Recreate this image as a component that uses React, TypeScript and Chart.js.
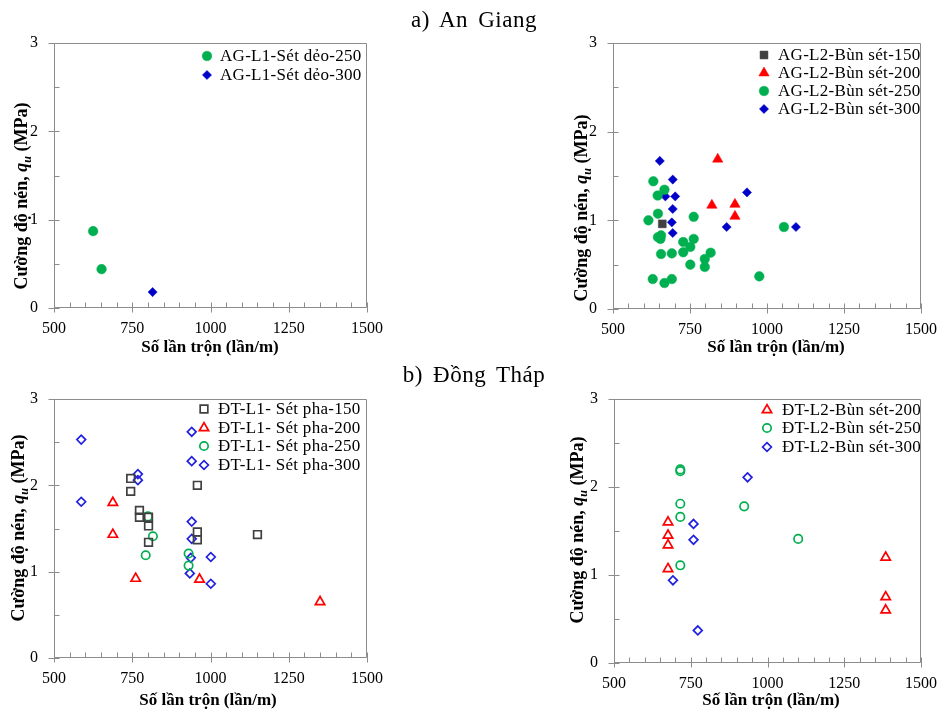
import React, { useEffect, useRef } from 'react';
import { Chart, registerables } from 'chart.js';
import { drawPoint } from 'chart.js/helpers';

Chart.register(...registerables);

type Pt = [number, number];

// ---- a) An Giang, lớp L1 (sét dẻo) ----
const agL1Set250: Pt[] = [[625, 0.87], [652, 0.44]];
const agL1Set300: Pt[] = [[815, 0.18]];

// ---- a) An Giang, lớp L2 (bùn sét) ----
const agL2Bun150: Pt[] = [[660, 0.96]];
const agL2Bun200: Pt[] = [[840, 1.69], [821, 1.17], [896, 1.18], [896, 1.045]];
const agL2Bun250: Pt[] = [
  [631, 1.44], [667, 1.345], [645, 1.28], [646, 1.075], [615, 1.0], [762, 1.04],
  [656, 0.83], [646, 0.81], [654, 0.79], [728, 0.756], [762, 0.79], [751, 0.7],
  [728, 0.64], [656, 0.62], [691, 0.627], [817, 0.635], [798, 0.564], [798, 0.474],
  [751, 0.5], [629, 0.338], [667, 0.293], [691, 0.338], [975, 0.368], [1055, 0.925],
];
const agL2Bun300: Pt[] = [
  [652, 1.67], [694, 1.46], [670, 1.27], [702, 1.27], [694, 1.128], [691, 0.977],
  [694, 0.857], [935, 1.315], [869, 0.925], [1094, 0.925],
];

// ---- b) Đồng Tháp, lớp L1 (sét pha) ----
const dtL1Pha150: Pt[] = [
  [745, 2.08], [745, 1.93], [773, 1.71], [773, 1.63], [802, 1.63], [802, 1.53],
  [802, 1.34], [958, 2.0], [958, 1.46], [958, 1.37], [1150, 1.43],
];
const dtL1Pha200: Pt[] = [[688, 1.8], [688, 1.43], [761, 0.92], [965, 0.91], [1350, 0.65]];
const dtL1Pha250: Pt[] = [[800, 1.64], [816, 1.41], [793, 1.19], [930, 1.21], [930, 1.07]];
const dtL1Pha300: Pt[] = [
  [587, 2.53], [587, 1.81], [768, 2.13], [768, 2.06], [940, 2.62], [940, 2.28],
  [940, 1.58], [940, 1.38], [937, 1.16], [934, 0.98], [1001, 1.17], [1001, 0.86],
];

// ---- b) Đồng Tháp, lớp L2 (bùn sét) ----
const dtL2Bun200: Pt[] = [
  [676, 1.6], [676, 1.45], [676, 1.34], [676, 1.07], [1385, 1.2], [1385, 0.75], [1385, 0.6],
];
const dtL2Bun250: Pt[] = [[716, 2.2], [716, 2.18], [716, 1.81], [716, 1.66], [716, 1.11], [924, 1.78], [1100, 1.41]];
const dtL2Bun300: Pt[] = [[692, 0.94], [759, 1.58], [759, 1.4], [773, 0.37], [935, 2.11]];

// axis ranges and labelled ticks
const X_MIN = 500;
const X_MAX = 1500;
const X_MINOR = 50;
const X_LABELS = [500, 750, 1000, 1250, 1500];
const Y_MIN = 0;
const Y_MAX = 3;
const Y_MINOR = 0.5;
const Y_LABELS = [0, 1, 2, 3];

const Y_TITLE = 'Cường độ nén, ';
const X_TITLE = 'Số lần trộn (lần/m)';

const W = 948;
const H = 713;
const SERIF = '"Liberation Serif", "Times New Roman", serif';
const AXIS_COLOR = '#8c8c8c';
const GREEN = '#00b050';
const BLUE = '#0000c8';
const RED = '#ff0000';
const DARK = '#404040';

type Series = {
  label: string;
  points: Pt[];
  style: string;
  radius: number;
  fill: string;
  stroke: string;
  bw: number;
};

type PanelCfg = {
  area: { left: number; top: number; right: number; bottom: number };
  series: Series[];
  legend: { mx: number; tx: number; rows: number[] };
  yTitle: { bx: number; cy: number };
  xTitle: { cx: number; by: number };
  soft: boolean;
};

const solid = (label: string, points: Pt[], style: string, radius: number, color: string): Series => ({
  label, points, style, radius, fill: color, stroke: color, bw: 0.5,
});
const hollow = (label: string, points: Pt[], style: string, radius: number, color: string): Series => ({
  label, points, style, radius, fill: 'rgba(0,0,0,0)', stroke: color, bw: 1.7,
});

const PANELS: PanelCfg[] = [
  {
    area: { left: 54, top: 43, right: 367, bottom: 308 },
    series: [
      solid('AG-L1-Sét dẻo-250', agL1Set250, 'circle', 4.8, GREEN),
      solid('AG-L1-Sét dẻo-300', agL1Set300, 'rectRot', 4.6, BLUE),
    ],
    legend: { mx: 207, tx: 220, rows: [56, 75] },
    yTitle: { bx: 27, cy: 196 },
    xTitle: { cx: 210, by: 352 },
    soft: false,
  },
  {
    area: { left: 613, top: 43, right: 927, bottom: 309 },
    series: [
      solid('AG-L2-Bùn sét-150', agL2Bun150, 'rect', 5.6, DARK),
      solid('AG-L2-Bùn sét-200', agL2Bun200, 'triangle', 6, RED),
      solid('AG-L2-Bùn sét-250', agL2Bun250, 'circle', 4.8, GREEN),
      solid('AG-L2-Bùn sét-300', agL2Bun300, 'rectRot', 4.6, BLUE),
    ],
    legend: { mx: 764, tx: 778, rows: [55, 73, 91, 109] },
    yTitle: { bx: 587, cy: 208 },
    xTitle: { cx: 776, by: 352 },
    soft: false,
  },
  {
    area: { left: 54, top: 399, right: 367, bottom: 658 },
    series: [
      hollow('ĐT-L1- Sét pha-150', dtL1Pha150, 'rect', 5.4, DARK),
      hollow('ĐT-L1- Sét pha-200', dtL1Pha200, 'triangle', 5.4, RED),
      hollow('ĐT-L1- Sét pha-250', dtL1Pha250, 'circle', 4.2, GREEN),
      hollow('ĐT-L1- Sét pha-300', dtL1Pha300, 'rectRot', 4.4, '#2020e0'),
    ],
    legend: { mx: 204, tx: 218, rows: [409, 428, 446, 465] },
    yTitle: { bx: 24, cy: 528 },
    xTitle: { cx: 208, by: 705 },
    soft: true,
  },
  {
    area: { left: 614, top: 399, right: 927, bottom: 663 },
    series: [
      hollow('ĐT-L2-Bùn sét-200', dtL2Bun200, 'triangle', 5.4, RED),
      hollow('ĐT-L2-Bùn sét-250', dtL2Bun250, 'circle', 4.2, GREEN),
      hollow('ĐT-L2-Bùn sét-300', dtL2Bun300, 'rectRot', 4.4, '#2020e0'),
    ],
    legend: { mx: 767, tx: 782, rows: [410, 428, 447] },
    yTitle: { bx: 583, cy: 530 },
    xTitle: { cx: 771, by: 705 },
    soft: true,
  },
];

const Y_AXIS_W = 54;
const X_AXIS_H = 40;

// frame, tick marks, axis titles and legend for one panel
const decorPlugin = {
  id: 'panelDecor',
  beforeDatasetsDraw(chart: any) {
    const { ctx, chartArea: a } = chart;
    const xs = chart.scales.x;
    const ys = chart.scales.y;
    ctx.save();
    ctx.strokeStyle = AXIS_COLOR;
    ctx.lineWidth = 1;
    ctx.beginPath();
    const L = Math.round(a.left) + 0.5;
    const R = Math.round(a.right) - 0.5;
    const T = Math.round(a.top) + 0.5;
    const B = Math.round(a.bottom) - 0.5;
    ctx.rect(L, T, R - L, B - T);
    for (let v = X_MIN; v <= X_MAX + 1e-9; v += X_MINOR) {
      const px = Math.round(xs.getPixelForValue(v)) + 0.5;
      const major = X_LABELS.includes(v);
      ctx.moveTo(px, B - 5);
      ctx.lineTo(px, B + (major ? 5 : 0));
    }
    for (let v = Y_MIN; v <= Y_MAX + 1e-9; v += Y_MINOR) {
      const py = Math.round(ys.getPixelForValue(v)) + 0.5;
      const major = Y_LABELS.includes(v);
      ctx.moveTo(L + 5, py);
      ctx.lineTo(L - (major ? 6 : 0), py);
    }
    ctx.stroke();
    ctx.restore();
  },
  afterDraw(chart: any, _args: any, opts: any) {
    const cfg: PanelCfg = opts.cfg;
    const ctx: CanvasRenderingContext2D = chart.ctx;
    ctx.save();
    ctx.fillStyle = '#000';

    // x title
    ctx.font = `bold 17px ${SERIF}`;
    ctx.textAlign = 'center';
    ctx.textBaseline = 'alphabetic';
    ctx.fillText(X_TITLE, cfg.xTitle.cx, cfg.xTitle.by);

    // y title with italic q and subscript u
    const parts = [
      { t: Y_TITLE, f: `bold 18px ${SERIF}`, dy: 0 },
      { t: 'q', f: `italic bold 18px ${SERIF}`, dy: 0 },
      { t: 'u', f: `italic bold 12px ${SERIF}`, dy: 4 },
      { t: ' (MPa)', f: `bold 18px ${SERIF}`, dy: 0 },
    ];
    ctx.textAlign = 'left';
    let total = 0;
    const widths = parts.map((p) => {
      ctx.font = p.f;
      const w = ctx.measureText(p.t).width;
      total += w;
      return w;
    });
    ctx.translate(cfg.yTitle.bx, cfg.yTitle.cy);
    ctx.rotate(-Math.PI / 2);
    let x = -total / 2;
    parts.forEach((p, i) => {
      ctx.font = p.f;
      ctx.fillText(p.t, x, p.dy);
      x += widths[i];
    });
    ctx.setTransform(1, 0, 0, 1, 0, 0);

    // legend
    ctx.font = `17px ${SERIF}`;
    (ctx as any).letterSpacing = '0.3px';
    ctx.textBaseline = 'middle';
    cfg.series.forEach((s, i) => {
      const y = cfg.legend.rows[i];
      ctx.fillStyle = s.fill;
      ctx.strokeStyle = s.stroke;
      ctx.lineWidth = s.bw;
      drawPoint(ctx, { pointStyle: s.style as any, radius: s.radius, rotation: 0, borderWidth: s.bw }, cfg.legend.mx, y);
      ctx.fillStyle = '#000';
      ctx.fillText(s.label, cfg.legend.tx, y + 1);
    });
    ctx.restore();
  },
};

function Panel({ cfg }: { cfg: PanelCfg }) {
  const ref = useRef<HTMLCanvasElement>(null);
  useEffect(() => {
    const a = cfg.area;
    const tickFont = { family: SERIF, size: 16 };
    const chart = new Chart(ref.current as HTMLCanvasElement, {
      type: 'scatter',
      data: {
        datasets: cfg.series.map((s) => ({
          label: s.label,
          data: s.points.map(([x, y]) => ({ x, y })),
          pointStyle: s.style as any,
          pointRadius: s.radius,
          pointHoverRadius: s.radius,
          pointBackgroundColor: s.fill,
          pointBorderColor: s.stroke,
          pointBorderWidth: s.bw,
          showLine: false,
        })),
      },
      options: {
        responsive: false,
        animation: false,
        events: [],
        layout: {
          padding: {
            left: a.left - Y_AXIS_W,
            top: a.top,
            right: W - a.right,
            bottom: H - a.bottom - X_AXIS_H,
          },
        },
        plugins: {
          legend: { display: false },
          tooltip: { enabled: false },
          panelDecor: { cfg },
        } as any,
        scales: {
          x: {
            type: 'linear',
            min: X_MIN,
            max: X_MAX,
            afterFit: (s: any) => { s.height = X_AXIS_H; },
            grid: { display: false, drawTicks: false },
            border: { display: false },
            ticks: {
              stepSize: X_MINOR,
              autoSkip: false,
              maxRotation: 0,
              padding: 11,
              color: '#000',
              font: tickFont,
              callback: (v: any) => (X_LABELS.includes(Number(v)) ? String(v) : ''),
            },
          },
          y: {
            type: 'linear',
            min: Y_MIN,
            max: Y_MAX,
            afterFit: (s: any) => { s.width = Y_AXIS_W; },
            grid: { display: false, drawTicks: false },
            border: { display: false },
            ticks: {
              stepSize: Y_MINOR,
              autoSkip: false,
              padding: 16,
              color: '#000',
              font: tickFont,
              callback: (v: any) => (Y_LABELS.includes(Number(v)) ? String(v) : ''),
            },
          },
        },
      },
      plugins: [decorPlugin as any],
    });
    return () => chart.destroy();
  }, [cfg]);
  return (
    <canvas
      ref={ref}
      width={W}
      height={H}
      style={{
        position: 'absolute',
        left: 0,
        top: 0,
        width: W,
        height: H,
        filter: cfg.soft ? 'blur(0.6px)' : undefined,
      }}
    />
  );
}

const titleStyle: React.CSSProperties = {
  position: 'absolute',
  left: 0,
  width: W,
  textAlign: 'center',
  fontFamily: SERIF,
  fontSize: 23,
  lineHeight: '23px',
  wordSpacing: 4,
  letterSpacing: 0.5,
  color: '#000',
};

export default function App() {
  return (
    <div style={{ position: 'fixed', left: 0, top: 0, width: W, height: H, background: '#fff', overflow: 'hidden' }}>
      {PANELS.map((p, i) => (
        <Panel key={i} cfg={p} />
      ))}
      <div style={{ ...titleStyle, top: 8 }}>a) An Giang</div>
      <div style={{ ...titleStyle, top: 363 }}>b) Đồng Tháp</div>
    </div>
  );
}
